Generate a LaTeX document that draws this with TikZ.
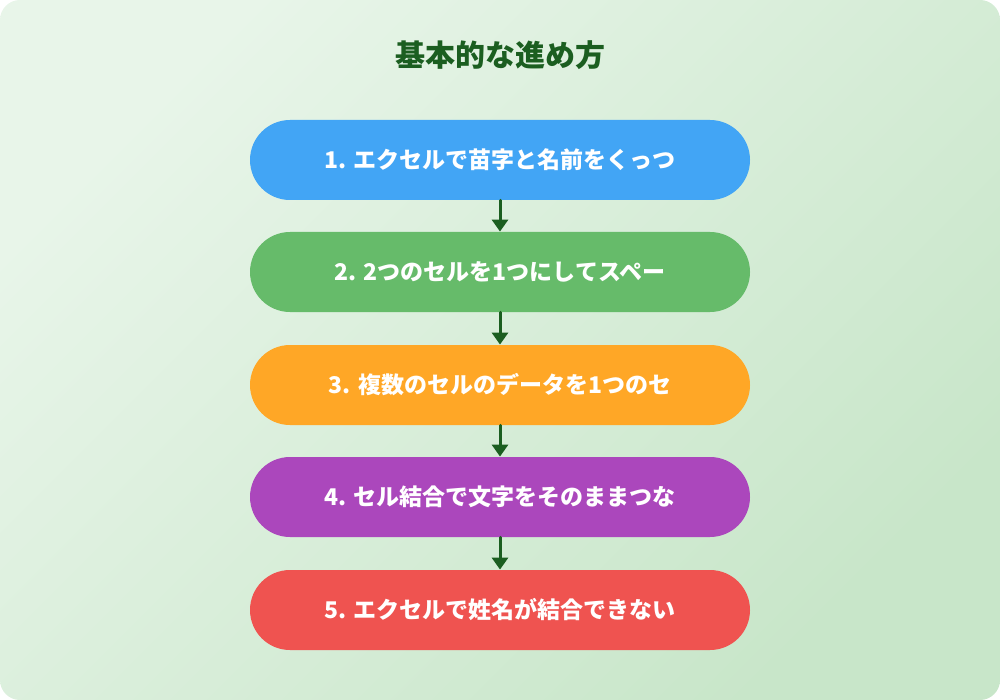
\documentclass[tikz,border=0pt]{standalone}
\usepackage{fontspec}
\newfontfamily\cjk{Noto Sans CJK JP}
\usetikzlibrary{arrows.meta}
\definecolor{bgA}{HTML}{E8F5E9}
\definecolor{bgB}{HTML}{C8E6C9}
\definecolor{ttl}{HTML}{1B5E20}
\definecolor{cBlue}{HTML}{42A5F5}
\definecolor{cGreen}{HTML}{66BB6A}
\definecolor{cOrange}{HTML}{FFA726}
\definecolor{cPurple}{HTML}{AB47BC}
\definecolor{cRed}{HTML}{EF5350}
\tikzset{>={Triangle[length=6pt,width=8pt]}}
\tikzset{stepbox/.style={rounded corners=20pt, minimum width=250pt, minimum height=40pt, text=white, font=\cjk\bfseries\fontsize{11.5}{13}\selectfont}}

\begin{document}
\begin{tikzpicture}[x=0.5pt, y=-0.5pt, line cap=round,line join=round]

\useasboundingbox (0,0) rectangle (1000,700);
\shade[rounded corners=10pt, left color=bgA, right color=bgB, shading angle=45] (0,0) rectangle (1000,700);

\node[font=\cjk\bfseries\fontsize{15}{17}\selectfont, text=ttl] (title) at (500,55) {基本的な進め方};

\node[stepbox, fill=cBlue] (s1) at (500,160) {1. エクセルで苗字と名前をくっつ};
\node[stepbox, fill=cGreen] (s2) at (500,272) {2. 2つのセルを1つにしてスペー};
\node[stepbox, fill=cOrange] (s3) at (500,385) {3. 複数のセルのデータを1つのセ};
\node[stepbox, fill=cPurple] (s4) at (500,497) {4. セル結合で文字をそのままつな};
\node[stepbox, fill=cRed] (s5) at (500,610) {5. エクセルで姓名が結合できない};

\foreach \a/\b in {s1/s2, s2/s3, s3/s4, s4/s5}
  \draw[->, ttl, line width=1.5pt] (\a) -- (\b);

\end{tikzpicture}
\end{document}
